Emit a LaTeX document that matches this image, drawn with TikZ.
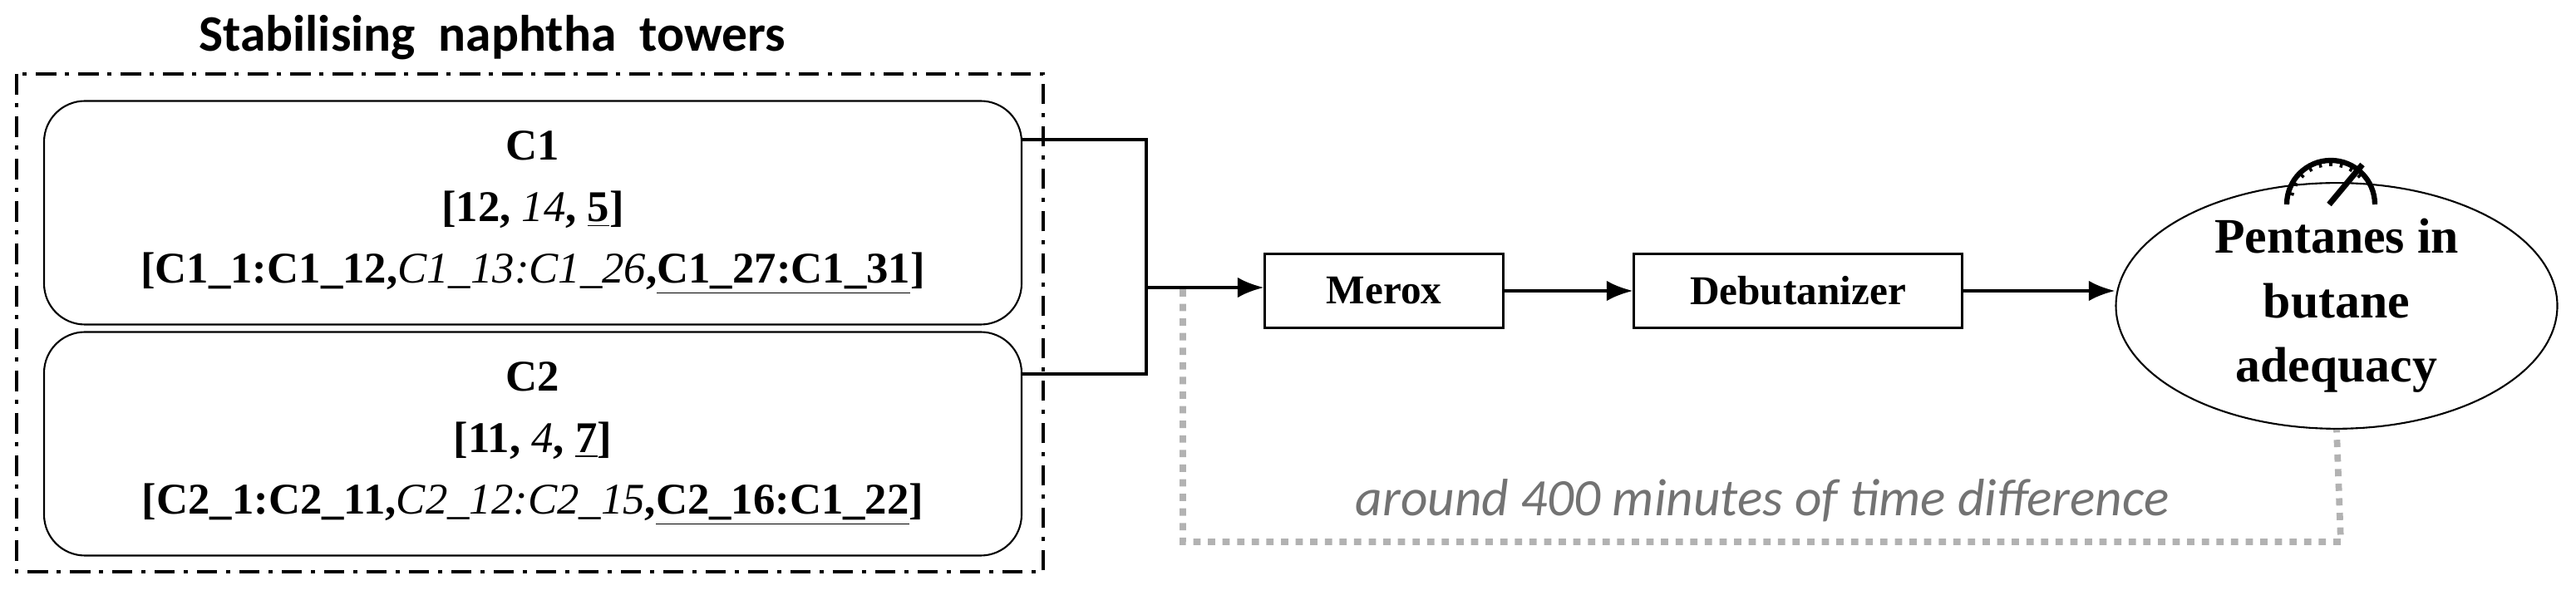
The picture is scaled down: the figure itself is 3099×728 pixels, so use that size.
\documentclass[tikz,border=0pt]{standalone}
\usepackage{fontspec}
\setmainfont{Liberation Serif}
\newfontfamily\carl{Carlito}
\usetikzlibrary{shapes.geometric,arrows.meta}
\newcommand{\myit}[1]{\textit{\mdseries #1}}
\begin{document}
\begin{tikzpicture}[x=0.01cm,y=-0.01cm,
  tower/.style={draw,rounded corners=14pt,minimum width=1176*0.01cm,minimum height=269*0.01cm,align=center,line width=0.6pt,font=\fontsize{15}{21}\selectfont\bfseries},
  proc/.style={draw,line width=0.6pt,font=\fontsize{14}{17}\selectfont\bfseries,minimum height=89*0.01cm},
  flow/.style={line width=1.2pt},
  arr/.style={flow,-{Latex[length=9pt,width=7pt]}},
  dots/.style={gray!60,line width=2.2pt,dash pattern=on 2.5pt off 2.5pt}]
\useasboundingbox (0,0) rectangle (3099,728);
\node[font=\carl\fontsize{17.5}{20}\selectfont\bfseries] (title) at (592,45) {Stabilising\ \ naphtha\ \ towers};
\draw[line width=1.3pt,dash pattern=on 7pt off 3pt on 1.5pt off 3pt] (20,89) rectangle (1255,688);
\node[tower] (c1) at (641,256) {C1\\{}[12, \myit{14}, \underline{5}]\\{}[C1\_1:C1\_12,\myit{C1\_13:C1\_26},\underline{C1\_27:C1\_31}]};
\node[tower] (c2) at (641,534) {C2\\{}[11, \myit{4}, \underline{7}]\\{}[C2\_1:C2\_11,\myit{C2\_12:C2\_15},\underline{C2\_16:C1\_22}]};
\coordinate (j) at (1379,346);
\draw[flow] (c1.east|-0,168) -| (j);
\draw[flow] (c2.east|-0,450) -| (j);
\node[proc,minimum width=287*0.01cm] (merox) at (1665,350) {Merox};
\node[proc,minimum width=395*0.01cm] (deb) at (2163,350) {Debutanizer};
\node[ellipse,draw,line width=0.6pt,minimum width=531*0.01cm,minimum height=252*0.01cm,inner sep=0pt,align=center,font=\fontsize{17}{22}\selectfont\bfseries] (pent) at (2811,368) {Pentanes in\\butane\\adequacy};
\draw[arr] (j) -- (merox.west|-j);
\draw[arr] (merox.east) -- (deb.west);
\draw[arr] (deb.east) -- (pent.west|-deb.east);
% gauge
\draw[line width=1.8pt] (2751,246) arc[start angle=180,end angle=360,radius=53];
\foreach \a in {165,150,135,120,105,90,75,60,45}
  \draw[line width=1pt] (2804,246) ++(-\a:53) -- ++(180-\a:7);
\draw[line width=2pt] (2802,246) -- (2842,198);
% dotted timing path
\coordinate (d0) at (1423,348);
\draw[dots] (d0) |- (2816,652) -- (pent.south);
\node[font=\carl\itshape\fontsize{18}{21}\selectfont,text=gray!90!black] (t) at (2120,602) {around 400 minutes of time difference};
\end{tikzpicture}
\end{document}
